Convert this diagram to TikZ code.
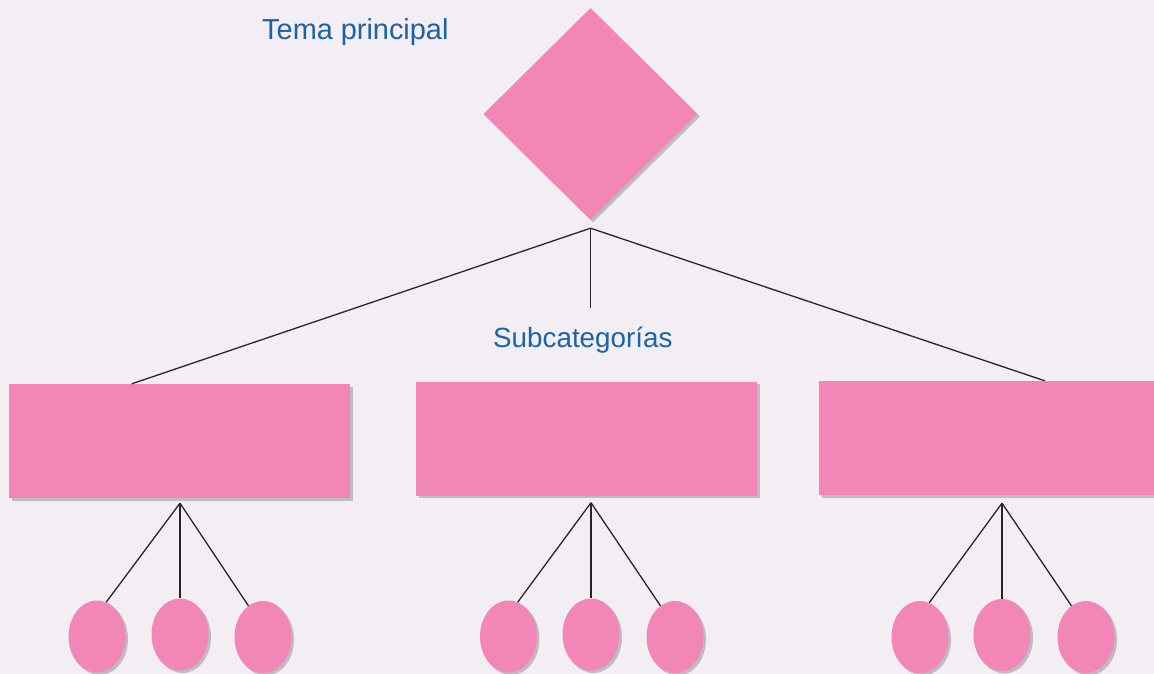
\documentclass[tikz,border=0pt]{standalone}
\usepackage{fontspec}
\setmainfont{Liberation Sans}
\usetikzlibrary{shapes.geometric,shadows,calc}
\definecolor{bg}{HTML}{F3EEF4}
\definecolor{pinkfill}{HTML}{F287B7}
\definecolor{txtblue}{HTML}{1A64A6}
\begin{document}
\begin{tikzpicture}[x=1pt,y=-1pt,
  shade/.style={drop shadow={shadow xshift=2.5pt,shadow yshift=-2.5pt,fill=black!50,opacity=0.45}},
  topic/.style={diamond, fill=pinkfill, minimum width=214pt, minimum height=212pt, inner sep=0pt, shade},
  subbox/.style={rectangle, fill=pinkfill, minimum width=341pt, minimum height=114pt, inner sep=0pt, shade},
  leaf/.style={ellipse, fill=pinkfill, minimum width=57pt, minimum height=72pt, inner sep=0pt, shade},
  link/.style={draw=black!85, line width=1.3pt},
  lbl/.style={text=txtblue, font=\fontsize{28}{30}\selectfont, anchor=base west, inner sep=0pt}]
\fill[bg] (0,0) rectangle (1154,674);
\useasboundingbox (0,0) rectangle (1154,674);

% main topic
\node[topic] (top) at (590.5,114) {};
\node[lbl,font=\fontsize{28.9}{30}\selectfont] (ttl) at (262,40) {Tema principal};

% subcategories
\node[subbox] (b1) at (179.5,441) {};
\node[subbox] (b2) at (586.5,438.5) {};
\node[subbox] (b3) at (989.5,438) {};
\node[lbl,font=\fontsize{27.8}{30}\selectfont] (sub) at (493,347) {Subcategorías};

% leaves
\node[leaf] (e1) at (97,636.5) {};
\node[leaf] (e2) at (180,634.5) {};
\node[leaf] (e3) at (263,637) {};
\node[leaf] (e4) at (508.5,636.5) {};
\node[leaf] (e5) at (591,634.5) {};
\node[leaf] (e6) at (675,637) {};
\node[leaf] (e7) at (920,637) {};
\node[leaf] (e8) at (1002,635) {};
\node[leaf] (e9) at (1086,637) {};

% connector points
\coordinate (hub) at ($(top.south)+(0,8)$);
\coordinate (mid) at (590.5,308);
\coordinate (a1) at ($(b1.south)+(0.5,5)$);
\coordinate (a2) at ($(b2.south)+(4.5,7)$);
\coordinate (a3) at ($(b3.south)+(12.5,8)$);

% connectors from the topic
\draw[link] (hub) -- ([xshift=123pt]b1.north west);
\draw[link] (hub) -- (mid);
\draw[link] (hub) -- ([xshift=226pt]b3.north west);

% connectors to leaves
\draw[link] (a1) -- (e1.75);
\draw[link] (a1) -- (e2.north);
\draw[link] (a1) -- (e3.115);
\draw[link] (a2) -- (e4.75);
\draw[link] (a2) -- (e5.north);
\draw[link] (a2) -- (e6.115);
\draw[link] (a3) -- (e7.75);
\draw[link] (a3) -- (e8.north);
\draw[link] (a3) -- (e9.115);
\end{tikzpicture}
\end{document}
